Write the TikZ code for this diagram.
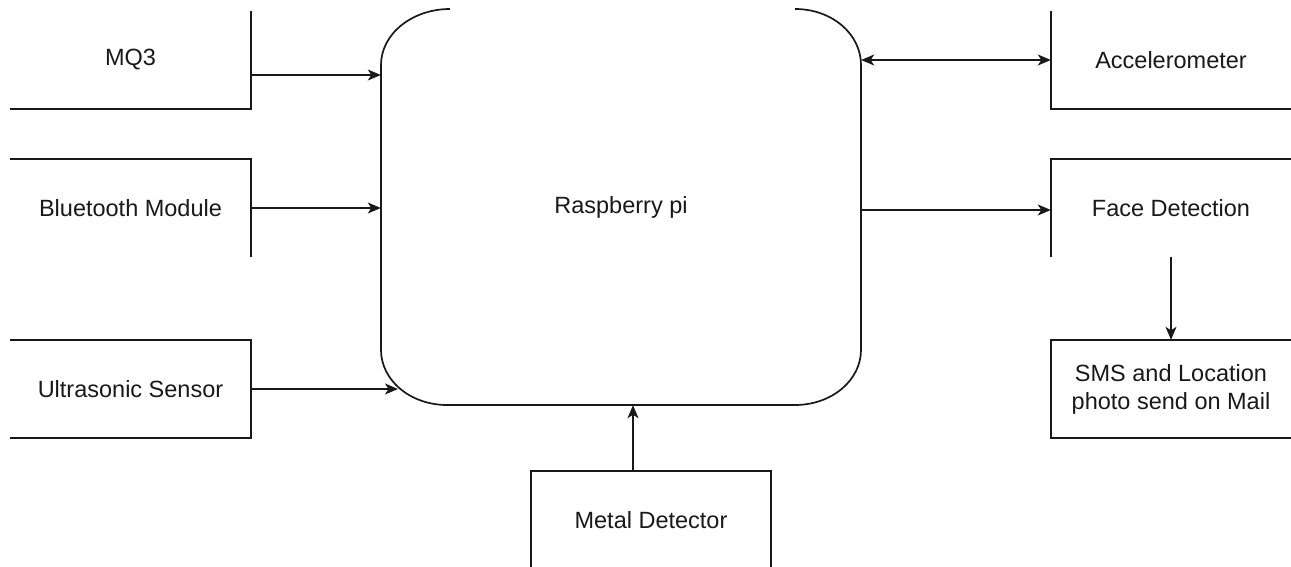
\documentclass[tikz,border=0pt]{standalone}
\usepackage{fontspec}
\setmainfont{Liberation Sans}
\usetikzlibrary{arrows.meta,calc}
\begin{document}
\begin{tikzpicture}[x=1pt,y=-1pt,
  lbl/.style={inner sep=0pt, font=\fontsize{23.5}{28}\selectfont, align=center, text=black!90},
  blk/.style={lbl, minimum width=240pt, minimum height=98pt},
  edge/.style={line width=1.7pt, black!90},
  tip/.tip={Stealth[length=13pt,width=11pt,inset=3.5pt]},
  arr/.style={line width=1.2pt, black!90, -tip},
  darr/.style={line width=1.2pt, black!90, tip-tip}]
\useasboundingbox (0,0) rectangle (1291,567);
\fill[white] (0,0) rectangle (1291,567);

% nodes
\node[lbl, minimum width=480pt, minimum height=396pt] (rpi) at (621,207) {Raspberry pi};
\node[blk] (mq3) at (130.5,60) {MQ3};
\node[blk] (bt) at (130.5,208) {Bluetooth Module};
\node[blk] (us) at (130.5,389) {Ultrasonic Sensor};
\node[blk] (acc) at (1171,60) {Accelerometer};
\node[blk] (face) at (1171,208) {Face Detection};
\node[blk] (sms) at (1171,389) {SMS and Location\\photo send on Mail};
\node[blk] (metal) at (651,520) {Metal Detector};

% raspberry pi outline (top edge not shown)
\draw[edge] (450,9) .. controls (412,9) and (381,34) .. (381,65)
  -- (381,350) .. controls (381,380) and (410,405) .. (447,405)
  -- (795,405) .. controls (832,405) and (861,380) .. (861,350)
  -- (861,65) .. controls (861,34) and (832,9) .. (795,9);

% visible box edges
\draw[edge] (mq3.north east) -- (mq3.south east) -- (mq3.south west);
\draw[edge] (bt.north west) -- (bt.north east) -- (bt.south east);
\draw[edge] (us.north west) -- (us.north east) -- (us.south east) -- (us.south west);
\draw[edge] (acc.north west) -- (acc.south west) -- (acc.south east);
\draw[edge] (face.north east) -- (face.north west) -- (face.south west);
\draw[edge] (sms.north east) -- (sms.north west) -- (sms.south west) -- (sms.south east);
\draw[edge] (metal.south west) -- (metal.north west) -- (metal.north east) -- (metal.south east);

% connectors
\coordinate (a1) at ($(mq3.east)+(0,15)$);
\draw[arr] (a1) -- (a1 -| rpi.west);
\draw[arr] (bt.east) -- (bt.east -| rpi.west);
\coordinate (uend) at (398,389);
\draw[arr] (us.east) -- (uend);
\coordinate (m1) at ($(metal.north)+(-18,0)$);
\draw[arr] (m1) -- (m1 |- rpi.south);
\draw[darr] (acc.west -| rpi.east) -- (acc.west);
\coordinate (f1) at ($(face.west)+(0,2)$);
\draw[arr] (f1 -| rpi.east) -- (f1);
\draw[arr] (face.south) -- (sms.north);
\end{tikzpicture}
\end{document}
